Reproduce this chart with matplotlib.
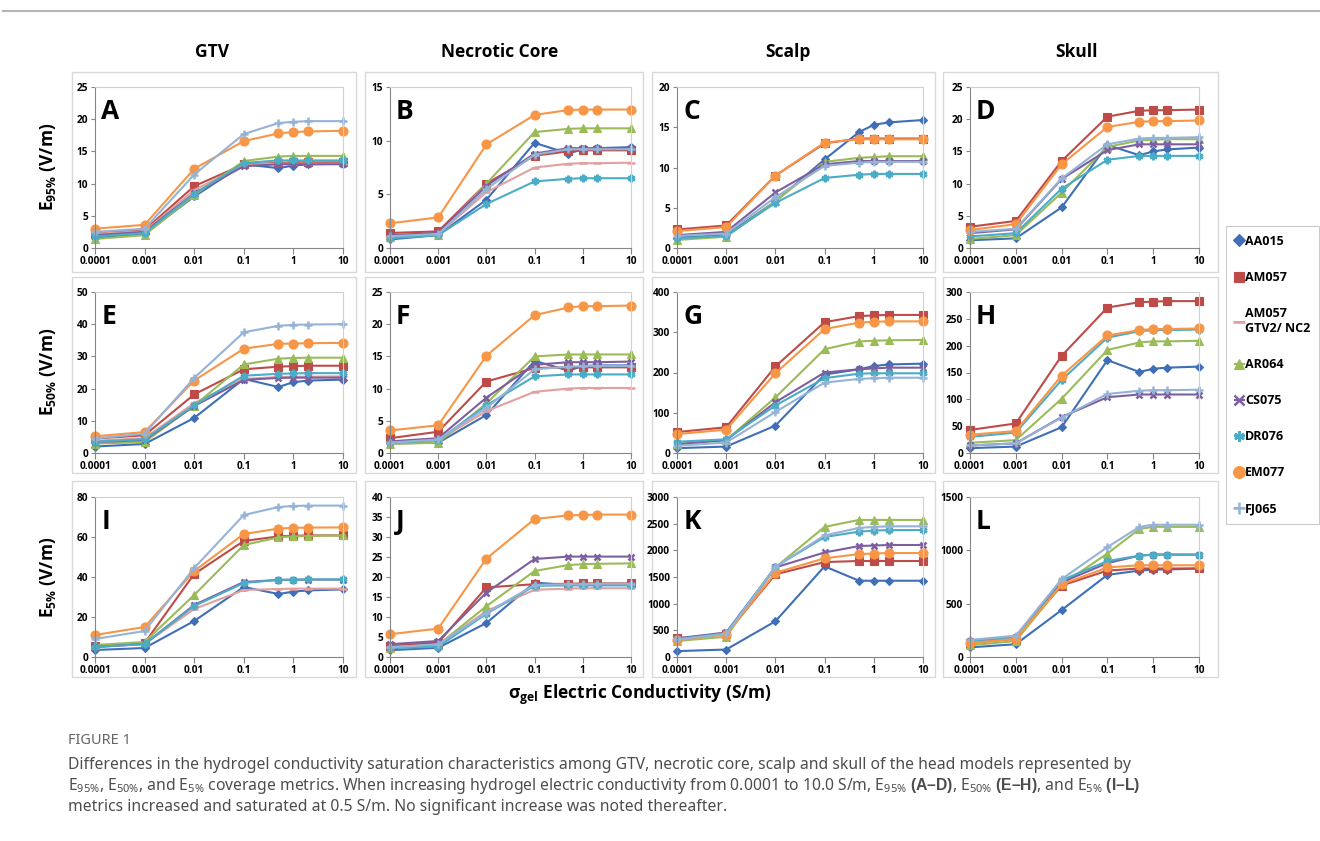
"""Hydrogel conductivity saturation: E95/E50/E5 coverage metrics for GTV, necrotic core, scalp and skull."""

import matplotlib

matplotlib.use("Agg")
import matplotlib.pyplot as plt
from matplotlib.patches import Rectangle
from matplotlib.ticker import NullLocator
from matplotlib.lines import Line2D

plt.rcParams["font.family"] = ["Open Sans", "DejaVu Sans"]
plt.rcParams["mathtext.fontset"] = "custom"
plt.rcParams["mathtext.rm"] = "Noto Sans"
plt.rcParams["mathtext.bf"] = "Liberation Sans:bold"

# conductivity values (S/m)
SIGMA = [0.0001, 0.001, 0.01, 0.1, 0.5, 1, 2, 10]
TICKS = [0.0001, 0.001, 0.01, 0.1, 1, 10]
TICK_LABELS = ["0.0001", "0.001", "0.01", "0.1", "1", "10"]

MODELS = ["AA015", "AM057", "AM057\nGTV2/ NC2", "AR064", "CS075", "DR076", "EM077", "FJ065"]
COLORS = ["#3F6FB6", "#BE4B48", "#E3A09E", "#9BBB59", "#7D5FA0", "#4BACC6", "#F79646", "#95B3D7"]
MARKERS = ["D", "s", "_", "^", "x", (6, 2, 0), "o", "+"]
MSIZES = [4, 5.5, 6, 5.5, 5, 5.5, 6.5, 6]

COLUMN_TITLES = ["GTV", "Necrotic Core", "Scalp", "Skull"]
ROW_LABELS = [r"E$_{\mathregular{95\%}}$ (V/m)", r"E$_{\mathregular{50\%}}$ (V/m)", r"E$_{\mathregular{5\%}}$ (V/m)"]
LETTERS = list("ABCDEFGHIJKL")
Y_MAX = [25, 15, 20, 25, 50, 25, 400, 300, 80, 40, 3000, 1500]
Y_STEP = [5, 5, 5, 5, 10, 5, 100, 50, 20, 5, 500, 500]

# E95% rows
PANEL_A = {
    "AA015": [1.6, 2.2, 8.0, 13.0, 12.4, 12.8, 13.0, 13.1],
    "AM057": [2.4, 2.8, 9.6, 13.0, 13.2, 13.3, 13.3, 13.3],
    "AM057\nGTV2/ NC2": [2.2, 2.6, 9.0, 12.9, 13.1, 13.1, 13.1, 13.1],
    "AR064": [1.4, 2.0, 8.2, 13.5, 14.2, 14.3, 14.3, 14.3],
    "CS075": [2.0, 2.5, 8.5, 12.7, 13.0, 13.0, 13.0, 13.0],
    "DR076": [1.8, 2.3, 8.4, 13.2, 13.6, 13.6, 13.6, 13.6],
    "EM077": [3.0, 3.6, 12.3, 16.6, 17.8, 18.0, 18.1, 18.2],
    "FJ065": [2.5, 3.0, 11.4, 17.7, 19.4, 19.6, 19.7, 19.7],
}
PANEL_B = {
    "AA015": [0.8, 1.2, 4.5, 9.8, 8.8, 9.2, 9.3, 9.4],
    "AM057": [1.4, 1.55, 6.0, 8.6, 9.0, 9.1, 9.1, 9.1],
    "AM057\nGTV2/ NC2": [1.0, 1.3, 5.2, 7.5, 7.85, 7.9, 7.9, 7.95],
    "AR064": [1.0, 1.2, 6.0, 10.8, 11.1, 11.15, 11.15, 11.15],
    "CS075": [1.2, 1.4, 5.8, 8.8, 9.3, 9.3, 9.3, 9.3],
    "DR076": [0.9, 1.2, 4.1, 6.2, 6.45, 6.5, 6.5, 6.5],
    "EM077": [2.3, 2.85, 9.65, 12.4, 12.85, 12.9, 12.9, 12.9],
    "FJ065": [1.1, 1.3, 5.5, 8.7, 9.2, 9.2, 9.2, 9.2],
}
PANEL_C = {
    "AA015": [1.3, 1.6, 5.8, 11.0, 14.4, 15.3, 15.6, 15.9],
    "AM057": [2.3, 2.8, 9.0, 13.0, 13.6, 13.6, 13.6, 13.6],
    "AR064": [1.0, 1.4, 5.8, 10.7, 11.2, 11.3, 11.4, 11.4],
    "CS075": [1.6, 2.0, 6.9, 10.4, 10.8, 10.8, 10.8, 10.8],
    "DR076": [1.2, 1.5, 5.6, 8.7, 9.1, 9.2, 9.2, 9.2],
    "EM077": [2.1, 2.6, 9.0, 13.1, 13.5, 13.5, 13.5, 13.5],
    "FJ065": [1.5, 1.8, 6.3, 10.2, 10.6, 10.7, 10.7, 10.7],
}
PANEL_D = {
    "AA015": [1.2, 1.5, 6.3, 16.0, 14.4, 15.0, 15.3, 15.6],
    "AM057": [3.3, 4.2, 13.5, 20.4, 21.3, 21.4, 21.4, 21.5],
    "AR064": [1.4, 2.0, 8.6, 15.7, 16.7, 16.8, 16.9, 16.9],
    "CS075": [2.3, 2.9, 10.7, 15.2, 16.1, 16.1, 16.1, 16.1],
    "DR076": [1.8, 2.3, 9.2, 13.7, 14.3, 14.3, 14.3, 14.3],
    "EM077": [2.8, 3.7, 13.0, 18.8, 19.6, 19.7, 19.7, 19.8],
    "FJ065": [2.5, 3.0, 10.8, 16.1, 17.0, 17.1, 17.1, 17.2],
}

# E50% rows
PANEL_E = {
    "AA015": [2.0, 2.8, 10.9, 23.0, 20.5, 22.0, 22.5, 22.8],
    "AM057": [4.5, 5.5, 18.2, 26.0, 26.8, 27.0, 27.1, 27.1],
    "AM057\nGTV2/ NC2": [3.8, 4.6, 15.5, 23.0, 23.6, 23.7, 23.7, 23.8],
    "AR064": [2.9, 3.4, 14.7, 27.5, 29.3, 29.5, 29.6, 29.6],
    "CS075": [3.4, 4.0, 14.6, 22.7, 23.3, 23.4, 23.4, 23.4],
    "DR076": [3.5, 4.3, 14.8, 24.0, 24.6, 24.7, 24.8, 24.8],
    "EM077": [5.2, 6.5, 22.5, 32.4, 33.9, 34.0, 34.1, 34.2],
    "FJ065": [4.5, 6.0, 23.3, 37.5, 39.5, 39.8, 39.9, 40.0],
}
PANEL_F = {
    "AA015": [1.5, 1.6, 5.9, 14.3, 12.8, 13.5, 13.6, 13.6],
    "AM057": [2.3, 3.3, 11.1, 13.2, 13.3, 13.3, 13.3, 13.3],
    "AM057\nGTV2/ NC2": [1.7, 2.0, 6.5, 9.5, 10.0, 10.1, 10.1, 10.1],
    "AR064": [1.4, 1.6, 7.7, 15.0, 15.3, 15.3, 15.3, 15.3],
    "CS075": [1.8, 2.3, 8.6, 13.7, 14.1, 14.1, 14.1, 14.2],
    "DR076": [1.6, 2.0, 7.4, 11.9, 12.2, 12.2, 12.2, 12.2],
    "EM077": [3.5, 4.3, 15.1, 21.4, 22.6, 22.8, 22.8, 22.9],
    "FJ065": [1.6, 2.1, 7.0, 13.0, 13.4, 13.5, 13.5, 13.5],
}
PANEL_G = {
    "AA015": [12, 16, 68, 195, 208, 216, 220, 222],
    "AM057": [52, 64, 215, 325, 340, 342, 343, 343],
    "AR064": [22, 32, 138, 258, 277, 279, 280, 281],
    "CS075": [22, 32, 126, 200, 208, 210, 212, 212],
    "DR076": [28, 34, 118, 186, 197, 198, 198, 198],
    "EM077": [47, 58, 198, 308, 324, 326, 327, 327],
    "FJ065": [18, 26, 102, 175, 184, 186, 187, 187],
}
PANEL_H = {
    "AA015": [9, 12, 48, 173, 151, 157, 159, 161],
    "AM057": [43, 55, 181, 271, 281, 282, 283, 283],
    "AR064": [19, 24, 101, 192, 206, 208, 208, 209],
    "CS075": [14, 18, 67, 104, 109, 109, 109, 109],
    "DR076": [30, 38, 136, 215, 227, 229, 229, 230],
    "EM077": [34, 41, 144, 219, 229, 231, 231, 232],
    "FJ065": [14, 18, 66, 110, 116, 117, 117, 118],
}

# E5% rows
PANEL_I = {
    "AA015": [3.5, 4.5, 18.0, 35.0, 31.5, 32.7, 33.3, 33.8],
    "AM057": [5.5, 7.0, 41.5, 58.0, 60.3, 60.6, 60.8, 60.8],
    "AM057\nGTV2/ NC2": [5.0, 6.5, 24.0, 33.5, 34.0, 34.2, 34.2, 34.2],
    "AR064": [6.0, 7.5, 31.0, 56.0, 59.8, 60.3, 60.5, 60.8],
    "CS075": [5.0, 6.5, 26.0, 37.5, 38.5, 38.6, 38.7, 38.7],
    "DR076": [5.0, 6.5, 25.5, 37.0, 38.6, 38.7, 38.8, 38.8],
    "EM077": [11.0, 15.0, 43.0, 61.5, 64.2, 64.6, 64.7, 64.8],
    "FJ065": [9.0, 13.0, 44.5, 71.0, 75.0, 75.5, 75.7, 75.7],
}
PANEL_J = {
    "AA015": [1.7, 2.3, 8.5, 18.6, 18.0, 18.1, 18.1, 18.1],
    "AM057": [2.8, 3.6, 17.4, 18.2, 18.3, 18.4, 18.4, 18.4],
    "AM057\nGTV2/ NC2": [2.5, 3.0, 11.5, 16.8, 17.1, 17.2, 17.2, 17.2],
    "AR064": [2.3, 3.0, 12.7, 21.5, 23.0, 23.2, 23.3, 23.4],
    "CS075": [3.2, 4.0, 16.1, 24.5, 25.1, 25.1, 25.1, 25.1],
    "DR076": [2.2, 2.6, 10.8, 17.8, 17.9, 17.9, 17.9, 17.9],
    "EM077": [5.7, 7.1, 24.6, 34.5, 35.4, 35.5, 35.6, 35.6],
    "FJ065": [2.4, 3.2, 11.0, 18.0, 18.2, 18.2, 18.3, 18.3],
}
PANEL_K = {
    "AA015": [110, 140, 670, 1700, 1430, 1430, 1430, 1430],
    "AM057": [350, 430, 1550, 1780, 1800, 1800, 1800, 1800],
    "AR064": [300, 380, 1680, 2440, 2570, 2570, 2570, 2570],
    "CS075": [350, 460, 1680, 1960, 2080, 2090, 2100, 2100],
    "DR076": [330, 450, 1690, 2250, 2350, 2370, 2380, 2380],
    "EM077": [320, 420, 1580, 1850, 1930, 1940, 1950, 1950],
    "FJ065": [330, 430, 1690, 2280, 2420, 2440, 2450, 2450],
}
PANEL_L = {
    "AA015": [90, 120, 440, 770, 810, 820, 820, 830],
    "AM057": [130, 170, 670, 810, 830, 830, 830, 830],
    "AR064": [110, 150, 680, 970, 1200, 1220, 1220, 1220],
    "CS075": [150, 190, 700, 880, 950, 960, 960, 960],
    "DR076": [150, 190, 720, 900, 950, 960, 960, 960],
    "EM077": [130, 170, 680, 840, 860, 860, 860, 860],
    "FJ065": [160, 200, 730, 1030, 1220, 1240, 1240, 1240],
}
PANELS = [PANEL_A, PANEL_B, PANEL_C, PANEL_D, PANEL_E, PANEL_F,
          PANEL_G, PANEL_H, PANEL_I, PANEL_J, PANEL_K, PANEL_L]

W, H = 1320, 841
COL_PLOT = [(95, 343), (390, 631), (677, 923), (970, 1199)]
ROW_PLOT = [(87, 248), (292, 453), (497, 657)]
COL_BOX = [(72, 356), (365, 643), (652, 935), (943, 1218)]
ROW_BOX = [(72, 272), (277, 473), (481, 677)]
TITLE_X = [212, 500, 788, 1076]
ROW_LABEL_Y = [167, 372, 577]
AXIS_GREY = "#868686"

fig = plt.figure(figsize=(W / 100, H / 100), dpi=100)
fig.add_artist(Line2D([3 / W, 1], [1 - 11 / H] * 2, color="#b5b5b5", lw=1.5))

for r, (rtop, rbot) in enumerate(ROW_BOX):
    for c, (bl, br) in enumerate(COL_BOX):
        fig.add_artist(Rectangle((bl / W, 1 - rbot / H), (br - bl) / W, (rbot - rtop) / H,
                                 transform=fig.transFigure, facecolor="white",
                                 edgecolor="#d9d9d9", lw=1.0, zorder=0))

for idx, panel in enumerate(PANELS):
    r, c = divmod(idx, 4)
    left, right = COL_PLOT[c]
    top, bottom = ROW_PLOT[r]
    ax = fig.add_axes([left / W, 1 - bottom / H, (right - left) / W, (bottom - top) / H])
    for name, color, marker, ms in zip(MODELS, COLORS, MARKERS, MSIZES):
        if name not in panel:
            continue
        ax.plot(SIGMA, panel[name], color=color, lw=1.5, marker=marker, ms=ms,
                mew=1.8 if marker in ("x", "+", "_", (6, 2, 0)) else 0.8,
                mec=color, mfc=color, clip_on=False)
    ax.set_xscale("log")
    ax.set_xlim(1e-4, 10)
    ax.set_xticks(TICKS)
    ax.set_xticklabels(TICK_LABELS)
    ax.xaxis.set_minor_locator(NullLocator())
    ax.set_ylim(0, Y_MAX[idx])
    ax.set_yticks(range(0, Y_MAX[idx] + 1, Y_STEP[idx]))
    ax.tick_params(axis="both", labelsize=7.3, length=4, width=0.8, color=AXIS_GREY, pad=2)
    ax.tick_params(axis="y", length=3)
    for lab in ax.get_xticklabels() + ax.get_yticklabels():
        lab.set_fontweight("bold")
    for side in ("left", "bottom"):
        ax.spines[side].set_color(AXIS_GREY)
        ax.spines[side].set_linewidth(0.8)
    for side in ("top", "right"):
        ax.spines[side].set_color("#d0d0d0")
        ax.spines[side].set_linewidth(0.8)
    ax.text(0.025, 0.93, LETTERS[idx], transform=ax.transAxes, fontsize=19,
            fontweight="bold", va="top", ha="left")

for c, title in enumerate(COLUMN_TITLES):
    fig.text(TITLE_X[c] / W, 1 - 52 / H, title, ha="center", va="center",
             fontsize=12.5, fontweight="bold")
for r, label in enumerate(ROW_LABELS):
    fig.text(48 / W, 1 - ROW_LABEL_Y[r] / H, label, ha="center", va="center",
             rotation=90, fontsize=12.5, fontweight="bold")
fig.text(640 / W, 1 - 695 / H, r"σ$_{\mathregular{gel}}$ Electric Conductivity (S/m)",
         ha="center", va="center", fontsize=12.5, fontweight="bold")

handles = [Line2D([], [], color=col, marker=m, ms=ms + 2, lw=1.5,
                  mew=1.8 if m in ("x", "+", "_", (6, 2, 0)) else 0.8)
           for col, m, ms in zip(COLORS, MARKERS, MSIZES)]
leg = fig.legend(handles, MODELS, loc="upper left", bbox_to_anchor=(1226 / W, 1 - 226 / H),
                 frameon=True, fancybox=False, edgecolor="#bfbfbf", fontsize=9,
                 labelspacing=1.85, handlelength=0.7, handletextpad=0.1,
                 borderpad=0.7, borderaxespad=0)
leg.get_frame().set_linewidth(0.8)
for t in leg.get_texts():
    t.set_fontweight("bold")

CAP = "#4d4d4d"
fig.text(68 / W, 1 - 741 / H, "FIGURE 1", fontsize=10.5, color="#666666",
         family=["Noto Sans", "DejaVu Sans"], va="center")
cap_lines = [
    "Differences in the hydrogel conductivity saturation characteristics among GTV, necrotic core, "
    "scalp and skull of the head models represented by",
    r"E$_{95\%}$, E$_{50\%}$, and E$_{5\%}$ coverage metrics. When increasing hydrogel electric "
    r"conductivity from 0.0001 to 10.0 S/m, E$_{95\%}$ $\mathbf{(A–D)}$, E$_{50\%}$ $\mathbf{(E–H)}$, "
    r"and E$_{5\%}$ $\mathbf{(I–L)}$",
    "metrics increased and saturated at 0.5 S/m. No significant increase was noted thereafter.",
]
for i, line in enumerate(cap_lines):
    fig.text(68 / W, 1 - (765 + 21 * i) / H, line, fontsize=11.3, color=CAP,
             family=["Noto Sans", "DejaVu Sans"], va="center")

fig.savefig("out.png", dpi=100)
